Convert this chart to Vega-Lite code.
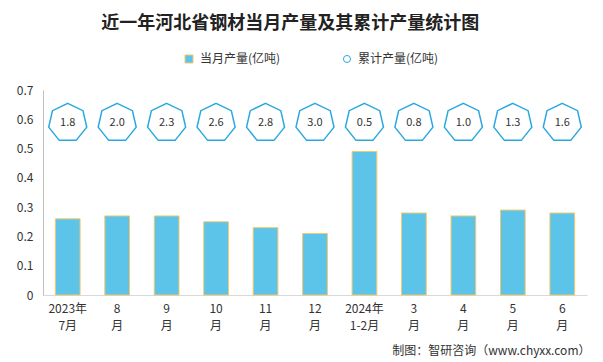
{
  "$schema": "https://vega.github.io/schema/vega-lite/v6.json",
  "width": 544,
  "height": 205,
  "autosize": {"type": "none"},
  "padding": {"left": 43, "top": 90, "right": 16, "bottom": 67},
  "background": "#ffffff",
  "title": {
    "text": "近一年河北省钢材当月产量及其累计产量统计图",
    "font": "Noto Sans CJK SC",
    "fontSize": 18,
    "fontWeight": "bold",
    "color": "#222222",
    "anchor": "start",
    "dx": 85,
    "offset": 20
  },
  "config": {
    "view": {"stroke": null},
    "font": "Noto Sans CJK SC",
    "axisY": {"labelOverlap": false}
  },
  "data": {
    "values": [
      {"month": "2023年|7月", "cur": 0.26, "cum": 1.8, "s1": "当月产量(亿吨)", "s2": "累计产量(亿吨)"},
      {"month": "8|月", "cur": 0.27, "cum": 2.0, "s1": "当月产量(亿吨)", "s2": "累计产量(亿吨)"},
      {"month": "9|月", "cur": 0.27, "cum": 2.3, "s1": "当月产量(亿吨)", "s2": "累计产量(亿吨)"},
      {"month": "10|月", "cur": 0.25, "cum": 2.6, "s1": "当月产量(亿吨)", "s2": "累计产量(亿吨)"},
      {"month": "11|月", "cur": 0.23, "cum": 2.8, "s1": "当月产量(亿吨)", "s2": "累计产量(亿吨)"},
      {"month": "12|月", "cur": 0.21, "cum": 3.0, "s1": "当月产量(亿吨)", "s2": "累计产量(亿吨)"},
      {"month": "2024年|1-2月", "cur": 0.49, "cum": 0.5, "s1": "当月产量(亿吨)", "s2": "累计产量(亿吨)"},
      {"month": "3|月", "cur": 0.28, "cum": 0.8, "s1": "当月产量(亿吨)", "s2": "累计产量(亿吨)"},
      {"month": "4|月", "cur": 0.27, "cum": 1.0, "s1": "当月产量(亿吨)", "s2": "累计产量(亿吨)"},
      {"month": "5|月", "cur": 0.29, "cum": 1.3, "s1": "当月产量(亿吨)", "s2": "累计产量(亿吨)"},
      {"month": "6|月", "cur": 0.28, "cum": 1.6, "s1": "当月产量(亿吨)", "s2": "累计产量(亿吨)"}
    ]
  },
  "encoding": {
    "x": {
      "field": "month",
      "type": "nominal",
      "sort": null,
      "scale": {"paddingInner": 0.5, "paddingOuter": 0.25},
      "axis": {
        "labelExpr": "split(datum.label, '|')",
        "labelAngle": 0,
        "labelFontSize": 12,
        "labelColor": "#333333",
        "labelLineHeight": 17,
        "labelPadding": 8,
        "labelBaseline": "top",
        "ticks": false,
        "domainColor": "#d9d9d9",
        "title": "制图：智研咨询（www.chyxx.com）",
        "titleFontSize": 12,
        "titleFontWeight": "normal",
        "titleColor": "#333333",
        "titleAlign": "right",
        "titleAnchor": "end",
        "titleX": 547,
        "titleY": 55,
        "titleBaseline": "middle"
      }
    }
  },
  "layer": [
    {
      "mark": {"type": "bar", "stroke": "#F5C76A", "strokeWidth": 1},
      "encoding": {
        "y": {
          "field": "cur",
          "type": "quantitative",
          "scale": {"domain": [0, 0.7], "nice": false},
          "axis": {
            "values": [0, 0.1, 0.2, 0.3, 0.4, 0.5, 0.6, 0.7],
            "labelExpr": "datum.value == 0 ? '0' : format(datum.value, '.1f')",
            "labelOverlap": false,
            "labelFlush": false,
            "grid": false,
            "ticks": false,
            "labelFontSize": 12,
            "labelColor": "#333333",
            "labelPadding": 10,
            "domainColor": "#bfbfbf",
            "title": null
          }
        },
        "fill": {
          "field": "s1",
          "type": "nominal",
          "scale": {"range": ["#5BC4E8"]},
          "legend": {
            "orient": "none",
            "legendX": 140,
            "legendY": -37,
            "title": null,
            "padding": 0,
            "symbolType": "square",
            "symbolSize": 64,
            "symbolStrokeColor": "#F5C76A",
            "symbolStrokeWidth": 1,
            "labelFontSize": 12,
            "labelColor": "#333333",
            "labelOffset": 5
          }
        }
      }
    },
    {
      "mark": {"type": "point", "shape": "M0,-1L0.782,-0.623L0.975,0.223L0.434,0.901L-0.434,0.901L-0.975,0.223L-0.782,-0.623Z", "size": 1520, "filled": false, "fill": "#ffffff", "strokeWidth": 1.5, "opacity": 1},
      "encoding": {
        "y": {
          "datum": 0.588,
          "type": "quantitative",
          "axis": {
            "values": [0, 0.1, 0.2, 0.3, 0.4, 0.5, 0.6, 0.7],
            "labelExpr": "datum.value == 0 ? '0' : format(datum.value, '.1f')",
            "labelOverlap": false,
            "labelFlush": false,
            "grid": false,
            "ticks": false,
            "labelFontSize": 12,
            "labelColor": "#333333",
            "labelPadding": 10,
            "domainColor": "#bfbfbf",
            "title": null
          }
        },
        "stroke": {
          "field": "s2",
          "type": "nominal",
          "scale": {"range": ["#29A8E0"]},
          "legend": {
            "orient": "none",
            "legendX": 298,
            "legendY": -37,
            "title": null,
            "padding": 0,
            "symbolType": "circle",
            "symbolSize": 50,
            "symbolStrokeColor": "#A8D8F0",
            "symbolFillColor": "#ffffff",
            "symbolStrokeWidth": 1,
            "labelFontSize": 12,
            "labelColor": "#333333",
            "labelOffset": 5
          }
        }
      }
    },
    {
      "mark": {"type": "text", "fontSize": 11, "color": "#333333", "baseline": "middle", "align": "center"},
      "encoding": {
        "y": {
          "datum": 0.588,
          "type": "quantitative",
          "axis": {
            "values": [0, 0.1, 0.2, 0.3, 0.4, 0.5, 0.6, 0.7],
            "labelExpr": "datum.value == 0 ? '0' : format(datum.value, '.1f')",
            "labelOverlap": false,
            "labelFlush": false,
            "grid": false,
            "ticks": false,
            "labelFontSize": 12,
            "labelColor": "#333333",
            "labelPadding": 10,
            "domainColor": "#bfbfbf",
            "title": null
          }
        },
        "text": {"field": "cum", "type": "quantitative", "format": ".1f"}
      }
    }
  ]
}
